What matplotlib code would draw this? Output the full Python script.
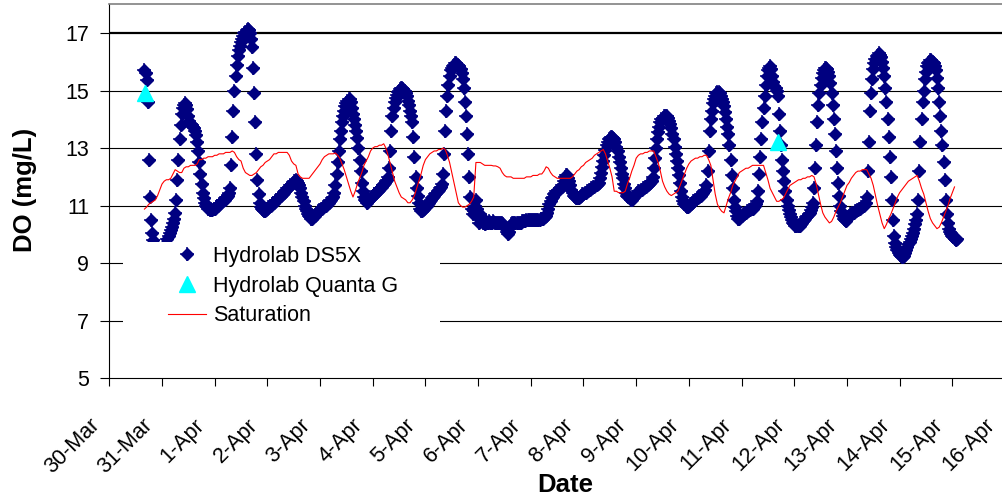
import numpy as np
import matplotlib
matplotlib.use("Agg")
import matplotlib.pyplot as plt
from matplotlib.patches import Rectangle
from matplotlib.legend_handler import HandlerTuple
from matplotlib.transforms import ScaledTranslation

plt.rcParams['font.family'] = ['Liberation Sans', 'DejaVu Sans']

# x axis: days since 30-Mar 00:00
date_labels = ["30-Mar", "31-Mar", "1-Apr", "2-Apr", "3-Apr", "4-Apr", "5-Apr",
               "6-Apr", "7-Apr", "8-Apr", "9-Apr", "10-Apr", "11-Apr", "12-Apr",
               "13-Apr", "14-Apr", "15-Apr", "16-Apr"]
y_ticks = [5, 7, 9, 11, 13, 15, 17]

# Hydrolab DS5X, DO (mg/L) every 30 min, one list per day (first day starts 16:00)
ds5x_start_hour = 16.0
ds5x_mar30 = [15.7, 15.6, 15.35, 14.6, 12.6, 11.3, 10.5, 10.05, 9.8, 9.6, 9.5, 9.45,
              9.4, 9.4, 9.4, 9.45]
ds5x_mar31 = [9.5, 9.5, 9.55, 9.6, 9.7, 9.85, 9.95, 10.05, 10.15, 10.25,
              10.4, 10.55, 10.75, 11.2, 11.9, 12.6, 13.3, 13.8, 14.2, 14.4,
              14.5, 14.55, 14.5, 14.35, 14.1, 13.95, 13.85, 13.8, 13.75, 13.7,
              13.6, 13.45, 13.2, 12.9, 12.5, 12.1, 11.75, 11.45, 11.25, 11.1,
              11.0, 10.95, 10.9, 10.9, 10.85, 10.85, 10.85, 10.9]
ds5x_apr01 = [10.9, 10.95, 11.0, 11.0, 11.05, 11.1, 11.1, 11.15, 11.2, 11.2,
              11.25, 11.3, 11.35, 11.45, 11.6, 12.4, 13.4, 14.3, 15.0, 15.5,
              15.9, 16.2, 16.4, 16.55, 16.7, 16.8, 16.9, 17.0, 17.05, 17.1,
              17.15, 17.1, 17.0, 16.8, 16.5, 15.8, 14.9, 13.9, 12.8, 11.9,
              11.4, 11.1, 10.95, 10.9, 10.85, 10.8, 10.8, 10.85]
ds5x_apr02 = [10.9, 10.95, 11.0, 11.0, 11.05, 11.1, 11.1, 11.15, 11.2, 11.2,
              11.25, 11.3, 11.35, 11.4, 11.4, 11.45, 11.5, 11.55, 11.6, 11.6,
              11.65, 11.7, 11.75, 11.8, 11.85, 11.85, 11.9, 11.85, 11.8, 11.7,
              11.6, 11.45, 11.3, 11.15, 11.0, 10.9, 10.8, 10.7, 10.65, 10.6,
              10.55, 10.55, 10.6, 10.65, 10.7, 10.75, 10.8, 10.85]
ds5x_apr03 = [10.85, 10.9, 10.9, 10.95, 11.0, 11.0, 11.05, 11.1, 11.1, 11.15,
              11.2, 11.25, 11.3, 11.45, 11.7, 12.1, 12.5, 12.9, 13.3, 13.6,
              13.9, 14.1, 14.3, 14.45, 14.55, 14.65, 14.7, 14.7, 14.6, 14.4,
              14.2, 14.0, 13.8, 13.6, 13.35, 13.0, 12.6, 12.2, 11.8, 11.5,
              11.3, 11.2, 11.15, 11.1, 11.15, 11.2, 11.25, 11.3]
ds5x_apr04 = [11.35, 11.4, 11.4, 11.45, 11.5, 11.5, 11.55, 11.6, 11.65, 11.7,
              11.75, 11.8, 11.85, 11.9, 12.0, 12.3, 12.9, 13.6, 14.1, 14.4,
              14.6, 14.75, 14.85, 14.95, 15.0, 15.05, 15.1, 15.1, 15.05, 15.0,
              14.9, 14.8, 14.65, 14.5, 14.3, 14.1, 13.9, 13.4, 12.7, 12.0,
              11.6, 11.35, 11.1, 10.9, 10.8, 10.8, 10.85, 10.9]
ds5x_apr05 = [10.95, 11.0, 11.05, 11.1, 11.15, 11.2, 11.25, 11.3, 11.35, 11.4,
              11.45, 11.5, 11.55, 11.6, 11.65, 11.75, 12.1, 12.8, 13.6, 14.3,
              14.8, 15.2, 15.5, 15.7, 15.8, 15.85, 15.9, 15.95, 15.95, 15.9,
              15.9, 15.85, 15.75, 15.6, 15.4, 15.1, 14.6, 14.1, 13.5, 12.8,
              12.0, 11.3, 10.9, 10.7, 10.8, 11.0, 11.2, 10.9]
ds5x_apr06 = [10.6, 10.4, 10.7, 10.5, 10.4, 10.5, 10.35, 10.45, 10.4, 10.4,
              10.45, 10.4, 10.4, 10.4, 10.45, 10.4, 10.4, 10.4, 10.4, 10.4,
              10.4, 10.4, 10.4, 10.35, 10.3, 10.2, 10.1, 10.0, 10.1, 10.25,
              10.35, 10.4, 10.4, 10.4, 10.4, 10.4, 10.4, 10.4, 10.4, 10.4,
              10.45, 10.45, 10.45, 10.45, 10.5, 10.5, 10.5, 10.5]
ds5x_apr07 = [10.5, 10.5, 10.5, 10.5, 10.5, 10.5, 10.5, 10.5, 10.5, 10.55,
              10.55, 10.55, 10.6, 10.6, 10.65, 10.75, 10.9, 11.05, 11.15, 11.25,
              11.3, 11.4, 11.45, 11.5, 11.5, 11.55, 11.55, 11.6, 11.65, 11.7,
              11.85, 12.0, 12.05, 12.05, 11.95, 11.85, 11.7, 11.55, 11.45, 11.35,
              11.3, 11.25, 11.25, 11.25, 11.25, 11.3, 11.35, 11.4]
ds5x_apr08 = [11.4, 11.45, 11.45, 11.5, 11.5, 11.55, 11.55, 11.6, 11.6, 11.65,
              11.65, 11.7, 11.7, 11.75, 11.8, 11.95, 12.15, 12.35, 12.55, 12.75,
              12.95, 13.1, 13.2, 13.3, 13.35, 13.4, 13.4, 13.35, 13.3, 13.2,
              13.05, 12.9, 12.7, 12.5, 12.3, 12.1, 11.95, 11.75, 11.6, 11.45,
              11.35, 11.3, 11.25, 11.2, 11.2, 11.25, 11.3, 11.35]
ds5x_apr09 = [11.4, 11.45, 11.5, 11.5, 11.55, 11.55, 11.6, 11.6, 11.65, 11.65,
              11.7, 11.7, 11.75, 11.8, 11.85, 12.0, 12.3, 12.65, 13.0, 13.3,
              13.55, 13.75, 13.9, 14.0, 14.05, 14.1, 14.1, 14.1, 14.1, 14.05,
              13.95, 13.85, 13.7, 13.5, 13.3, 13.05, 12.8, 12.55, 12.3, 12.05,
              11.8, 11.5, 11.3, 11.15, 11.05, 11.0, 10.95, 10.95]
ds5x_apr10 = [11.0, 11.05, 11.05, 11.1, 11.15, 11.15, 11.2, 11.25, 11.25, 11.3,
              11.35, 11.35, 11.4, 11.45, 11.5, 11.55, 11.7, 12.2, 12.9, 13.6,
              14.0, 14.3, 14.55, 14.7, 14.8, 14.9, 14.95, 14.95, 14.9, 14.8,
              14.7, 14.6, 14.45, 14.25, 14.0, 13.75, 13.5, 13.1, 12.6, 12.05,
              11.6, 11.2, 10.95, 10.8, 10.65, 10.55, 10.55, 10.6]
ds5x_apr11 = [10.65, 10.7, 10.7, 10.75, 10.75, 10.8, 10.8, 10.85, 10.85, 10.9,
              10.9, 10.95, 11.0, 11.05, 11.15, 11.5, 12.1, 12.7, 13.3, 13.9,
              14.4, 14.8, 15.2, 15.5, 15.7, 15.8, 15.85, 15.75, 15.5, 15.3,
              15.15, 15.1, 15.0, 14.8, 14.2, 13.6, 13.1, 12.6, 12.2, 11.85,
              11.5, 11.2, 11.0, 10.85, 10.7, 10.6, 10.5, 10.4]
ds5x_apr12 = [10.35, 10.3, 10.3, 10.3, 10.3, 10.3, 10.35, 10.4, 10.45, 10.5,
              10.55, 10.6, 10.65, 10.7, 10.75, 10.85, 10.95, 11.1, 11.6, 12.3,
              13.1, 13.9, 14.5, 14.9, 15.2, 15.45, 15.6, 15.7, 15.8, 15.8,
              15.75, 15.65, 15.5, 15.25, 14.9, 14.5, 14.0, 13.5, 12.9, 12.3,
              11.8, 11.35, 11.0, 10.8, 10.65, 10.55, 10.5, 10.45]
ds5x_apr13 = [10.55, 10.6, 10.65, 10.7, 10.7, 10.75, 10.75, 10.8, 10.8, 10.85,
              10.85, 10.9, 10.9, 10.95, 10.95, 11.0, 11.0, 11.1, 11.3, 12.2,
              13.2, 14.3, 14.9, 15.4, 15.75, 15.95, 16.1, 16.2, 16.25, 16.3,
              16.25, 16.15, 16.0, 15.8, 15.5, 15.1, 14.6, 14.0, 13.4, 12.7,
              12.0, 11.2, 10.5, 9.95, 9.7, 9.55, 9.45, 9.35]
ds5x_apr14 = [9.3, 9.25, 9.2, 9.2, 9.25, 9.35, 9.45, 9.55, 9.65, 9.75,
              9.85, 9.95, 10.05, 10.2, 10.35, 10.5, 10.7, 11.2, 12.2, 13.2,
              14.0, 14.6, 15.0, 15.4, 15.65, 15.85, 15.95, 16.0, 16.05, 16.05,
              16.0, 15.95, 15.85, 15.7, 15.45, 15.1, 14.6, 14.1, 13.6, 13.1,
              12.5, 11.9, 11.2, 10.7, 10.4, 10.2, 10.1, 10.0, 9.95, 9.9,
              9.85, 9.8, 9.85]

# Saturation DO (mg/L), hourly, one list per day (first day starts 16:00)
sat_start_hour = 16.0
sat_mar30 = [10.88, 10.95, 11.05, 11.1, 11.15, 11.2, 11.35, 11.55]
sat_mar31 = [11.75, 11.85, 11.9, 11.9, 11.95, 12.1, 12.25, 12.2, 12.15, 12.15, 12.3, 12.35,
             12.35, 12.4, 12.4, 12.4, 12.45, 12.6, 12.6, 12.65, 12.65, 12.7, 12.7, 12.7]
sat_apr01 = [12.75, 12.75, 12.8, 12.8, 12.8, 12.85, 12.85, 12.85, 12.9, 12.85, 12.7, 12.6,
             12.55, 12.3, 12.15, 12.1, 12.05, 12.05, 12.1, 12.15, 12.25, 12.35, 12.4, 12.5]
sat_apr02 = [12.55, 12.6, 12.7, 12.8, 12.8, 12.85, 12.85, 12.85, 12.85, 12.85, 12.75, 12.55,
             12.45, 12.4, 12.1, 12.0, 11.95, 11.95, 11.95, 11.95, 12.05, 12.15, 12.25, 12.35]
sat_apr03 = [12.45, 12.6, 12.7, 12.75, 12.8, 12.8, 12.8, 12.83, 12.75, 12.65, 12.45, 12.25,
             12.0, 11.75, 11.5, 11.3, 11.5, 11.75, 11.95, 12.15, 12.4, 12.55, 12.7, 12.9]
sat_apr04 = [13.0, 13.05, 13.05, 13.1, 13.1, 13.15, 13.0, 12.75, 12.45, 12.15, 11.85, 11.65,
             11.45, 11.3, 11.25, 11.2, 11.1, 11.1, 11.2, 11.35, 11.6, 11.85, 12.1, 12.4]
sat_apr05 = [12.6, 12.7, 12.8, 12.85, 12.9, 12.9, 12.95, 12.95, 13.0, 12.95, 12.75, 12.5,
             12.15, 11.8, 11.45, 11.1, 11.0, 10.95, 10.95, 11.0, 11.05, 11.15, 11.3, 12.5]
sat_apr06 = [12.5, 12.5, 12.45, 12.4, 12.4, 12.4, 12.4, 12.38, 12.38, 12.35, 12.3, 12.15,
             12.05, 12.0, 12.0, 12.0, 11.95, 11.95, 11.95, 11.95, 11.95, 11.95, 12.0, 12.0]
sat_apr07 = [12.0, 12.05, 12.05, 12.05, 12.1, 12.1, 12.2, 12.35, 12.3, 12.15, 12.05, 12.0,
             11.95, 11.95, 11.95, 11.95, 11.95, 11.95, 11.95, 12.0, 12.1, 12.2, 12.25, 12.35]
sat_apr08 = [12.4, 12.5, 12.55, 12.6, 12.65, 12.75, 12.8, 12.85, 12.9, 12.95, 12.8, 12.55,
             12.3, 12.0, 11.5, 11.5, 11.45, 11.45, 11.45, 11.5, 11.75, 11.95, 12.2, 12.4]
sat_apr09 = [12.65, 12.75, 12.8, 12.8, 12.85, 12.85, 12.9, 12.9, 12.9, 12.7, 12.5, 12.2,
             11.85, 11.65, 11.5, 11.4, 11.35, 11.4, 11.45, 11.5, 11.7, 11.9, 12.1, 12.3]
sat_apr10 = [12.45, 12.55, 12.6, 12.65, 12.65, 12.7, 12.7, 12.75, 12.75, 12.6, 12.4, 11.9,
             11.4, 11.05, 10.9, 10.8, 10.75, 11.0, 11.25, 11.45, 11.7, 11.85, 12.0, 12.15]
sat_apr11 = [12.2, 12.25, 12.3, 12.3, 12.35, 12.4, 12.4, 12.4, 12.4, 12.4, 12.4, 12.15,
             11.9, 11.6, 11.45, 11.3, 11.15, 11.15, 11.2, 11.25, 11.4, 11.55, 11.7, 11.75]
sat_apr12 = [11.8, 11.85, 11.9, 11.9, 11.95, 11.95, 12.0, 12.0, 12.05, 12.0, 11.75, 11.4,
             11.05, 10.75, 10.6, 10.5, 10.4, 10.45, 10.6, 10.8, 10.95, 11.1, 11.3, 11.5]
sat_apr13 = [11.7, 11.8, 11.95, 12.05, 12.15, 12.2, 12.2, 12.25, 12.25, 12.25, 12.1, 11.95,
             11.7, 11.35, 11.0, 10.7, 10.4, 10.2, 10.35, 10.55, 10.7, 10.9, 11.1, 11.3]
sat_apr14 = [11.45, 11.55, 11.65, 11.75, 11.85, 11.9, 11.95, 12.0, 12.05, 11.85, 11.6, 11.4,
             11.1, 10.8, 10.55, 10.4, 10.3, 10.2, 10.25, 10.4, 10.6, 10.8, 11.0, 11.25,
             11.45, 11.65]

# Hydrolab Quanta G spot checks: (hours since 30-Mar 00:00, DO)
quanta_hours = [16.1, 304.6]
quanta_do = [14.9, 13.2]

ds5x_days = [ds5x_mar30, ds5x_mar31, ds5x_apr01, ds5x_apr02, ds5x_apr03, ds5x_apr04,
             ds5x_apr05, ds5x_apr06, ds5x_apr07, ds5x_apr08, ds5x_apr09, ds5x_apr10,
             ds5x_apr11, ds5x_apr12, ds5x_apr13, ds5x_apr14]
sat_days = [sat_mar30, sat_mar31, sat_apr01, sat_apr02, sat_apr03, sat_apr04, sat_apr05,
            sat_apr06, sat_apr07, sat_apr08, sat_apr09, sat_apr10, sat_apr11, sat_apr12,
            sat_apr13, sat_apr14]


def stack_days(days, first_hour, step):
    # each day's list begins at midnight, except the first one
    t, v = [], []
    for i, vals in enumerate(days):
        t0 = first_hour if i == 0 else 24.0 * i
        t.append(t0 + step * np.arange(len(vals)))
        v.append(np.array(vals, dtype=float))
    return np.concatenate(t) / 24.0, np.concatenate(v)


ds5x_t, ds5x_v = stack_days(ds5x_days, ds5x_start_hour, 0.5)
sat_t, sat_v = stack_days(sat_days, sat_start_hour, 1.0)
quanta_t = np.array(quanta_hours) / 24.0

W, H = 1002, 501
fig = plt.figure(figsize=(W / 100, H / 100), dpi=100)
ax_l, ax_r, ax_t, ax_b = 109.3, 1005.0, 4.2, 378.3
ax = fig.add_axes([ax_l / W, 1 - ax_b / H, (ax_r - ax_l) / W, (ax_b - ax_t) / H])

navy = '#000080'
for level in y_ticks[1:]:
    ax.axhline(level, color='black', lw=1.6 if level == 17 else 0.8, zorder=1)

d1, = ax.plot(ds5x_t, ds5x_v, ls='none', marker='D', ms=5.8, color=navy, mec=navy, zorder=3)
d2, = ax.plot(ds5x_t, ds5x_v, ls='none', marker='+', ms=9.5, mew=1.1, color=navy, zorder=3)
q, = ax.plot(quanta_t, quanta_do, ls='none', marker='^', ms=11, color='#00FFFF', zorder=4)
s, = ax.plot(sat_t, sat_v, color='#FF0000', lw=0.8, zorder=5)

ax.set_xlim(0, 17)
ax.set_ylim(5, 18)
ax.set_xticks(range(len(date_labels)))
ax.set_xticklabels(date_labels, rotation=45, ha='right', va='center', rotation_mode='anchor')
ax.set_yticks(y_ticks)
ax.tick_params(axis='both', direction='out', width=0.8, labelsize=15.5, color='black')
ax.tick_params(axis='y', length=6.5, pad=8)
ax.tick_params(axis='x', length=6, pad=21)
# date labels end a little to the left of and below their ticks
shift = ScaledTranslation(-0.13, -0.06, fig.dpi_scale_trans)
for lbl in ax.get_xticklabels():
    lbl.set_transform(lbl.get_transform() + shift)

for side in ['left', 'bottom']:
    ax.spines[side].set_color('black')
    ax.spines[side].set_linewidth(0.8)
ax.spines['top'].set_color('#808080')
ax.spines['top'].set_linewidth(1.2)
ax.spines['right'].set_visible(False)

# white legend panel sits on top of the data
ax.add_patch(Rectangle(((123 - ax_l) / (ax_r - ax_l), (ax_b - 335) / (ax_b - ax_t)),
                       (440 - 123) / (ax_r - ax_l), (335 - 242) / (ax_b - ax_t),
                       transform=ax.transAxes, facecolor='white', edgecolor='none',
                       zorder=6))
leg = ax.legend([(d1, d2), q, s], ['Hydrolab DS5X', 'Hydrolab Quanta G', 'Saturation'],
                handler_map={tuple: HandlerTuple(ndivide=1)},
                loc='upper left', numpoints=1,
                bbox_to_anchor=((168 - ax_l) / (ax_r - ax_l), (ax_b - 246) / (ax_b - ax_t)),
                frameon=False, fontsize=15.5, borderpad=0, borderaxespad=0,
                handlelength=1.75, handletextpad=0.35, labelspacing=0.4)
leg.set_zorder(7)

fig.text(25 / W, 1 - 190 / H, 'DO (mg/L)', rotation=90, fontsize=18.5, fontweight='bold',
         ha='center', va='center')
fig.text(565 / W, 1 - 485 / H, 'Date', fontsize=18.5, fontweight='bold',
         ha='center', va='center')

fig.savefig('out.png', dpi=100)
